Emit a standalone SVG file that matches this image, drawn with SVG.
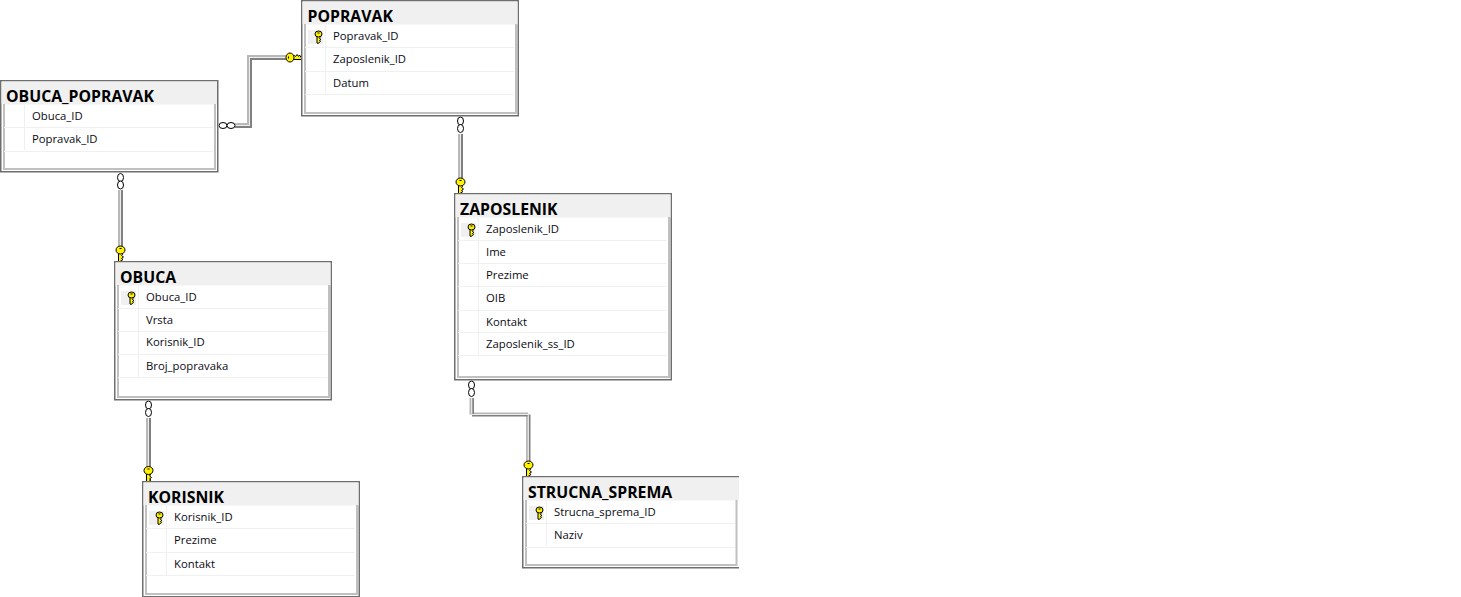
<svg xmlns="http://www.w3.org/2000/svg" width="1461" height="597" viewBox="0 0 1461 597">
<style>
.outer{fill:#fff;stroke:#6e6e6e;stroke-width:1.5}
.inner{fill:none;stroke:#c0c0c0;stroke-width:2}
.head{fill:#f0f0f0}
.grid{fill:none;stroke:#f0f0f0;stroke-width:1}
.title{font:bold 15.8px "Open Sans","Noto Sans",sans-serif;fill:#000}
.col{font:11.3px "Open Sans","Noto Sans",sans-serif;fill:#0a0a14}
.pk{fill:#f0f0f0}
.cl{fill:none;stroke:#b8b8b8;stroke-width:2}
.cm{fill:none;stroke:#ececec;stroke-width:1}
.cd{fill:none;stroke:#808080;stroke-width:2}
.ring{fill:#fff;stroke:#000;stroke-width:1}
.keyb{fill:#fff200;stroke:#000;stroke-width:1}
</style>
<defs>
<symbol id="key" overflow="visible">
<path class="keyb" d="M-2,3 V12 L-0.5,11.5 L2.5,9.5 L1,8.5 L3,7 L1,5.5 L2,4.5 V3 Z"/>
<ellipse class="keyb" cx="0" cy="0" rx="4.5" ry="4"/>
<path d="M-1,-1.5 H1" stroke="#000" stroke-width="1"/>
</symbol>
<symbol id="skey" overflow="visible">
<path class="keyb" d="M-1.5,2.5 V9 L-0.5,9.5 L2,7.5 L1,6.5 L2.5,5.5 L1,4.5 L1.5,3.5 V2.5 Z" stroke-width="0.8"/>
<ellipse class="keyb" cx="0" cy="0" rx="3.5" ry="3"/>
<path d="M-1,-1 H1" stroke="#000" stroke-width="1"/>
</symbol>
<clipPath id="cut"><rect x="0" y="0" width="739" height="597"/></clipPath>
</defs>

<g id="connectors">
<g id="c-obuca-popravak-popravak">
<path class="cl" d="M235,124 H248 V56 H287"/><path class="cd" d="M235,127 H251 V59 H287"/><path class="cm" d="M235,125.5 H249.5 V57.5 H287"/>
<ellipse class="ring" cx="223" cy="125.5" rx="4" ry="3"/><ellipse class="ring" cx="231" cy="125.5" rx="4" ry="3"/>
<use href="#key" transform="translate(290,57.5) rotate(-90)"/>
</g>
<g id="c-popravak-zaposlenik">
<path class="cl" d="M459,134 V178"/><path class="cd" d="M462,134 V178"/><path class="cm" d="M460.5,134 V178"/>
<ellipse class="ring" cx="460.5" cy="121" rx="3" ry="4"/><ellipse class="ring" cx="460.5" cy="128.5" rx="3" ry="4"/>
<use href="#key" transform="translate(460.5,182)"/>
</g>
<g id="c-obuca-popravak-obuca">
<path class="cl" d="M119,190 V247"/><path class="cd" d="M122,190 V247"/><path class="cm" d="M120.5,190 V247"/>
<ellipse class="ring" cx="120.5" cy="177.5" rx="3" ry="4"/><ellipse class="ring" cx="120.5" cy="185" rx="3" ry="4"/>
<use href="#key" transform="translate(120.5,250)"/>
</g>
<g id="c-obuca-korisnik">
<path class="cl" d="M147,418 V467"/><path class="cd" d="M150,418 V467"/><path class="cm" d="M148.5,418 V467"/>
<ellipse class="ring" cx="148.5" cy="405" rx="3" ry="4"/><ellipse class="ring" cx="148.5" cy="412.5" rx="3" ry="4"/>
<use href="#key" transform="translate(148.5,470.5)"/>
</g>
<g id="c-zaposlenik-strucna">
<path class="cl" d="M470.5,398 V413.5 H527 V461"/><path class="cd" d="M473,398 V415.5 H529.5 V461"/><path class="cm" d="M471.8,398 V414.5 H528.3 V461"/>
<ellipse class="ring" cx="471.5" cy="385" rx="3" ry="4"/><ellipse class="ring" cx="471.5" cy="392.5" rx="3" ry="4"/>
<use href="#key" transform="translate(528.5,465)"/>
</g>
</g>

<g id="popravak" transform="translate(301,0)">
<rect class="outer" x="0.75" y="0.75" width="216.5" height="115"/>
<rect class="head" x="1.5" y="1.5" width="215" height="23"/>
<path class="inner" d="M4,24 V113 H215 V24"/>
<path class="grid" d="M4,47.5 H213 M4,71.5 H213 M4,94.5 H213 M24.5,25 V94"/>
<rect class="pk" x="7" y="30" width="15" height="14"/>
<use href="#skey" transform="translate(17.5,34)"/>
<text class="title" x="6.5" y="21.6">POPRAVAK</text>
<text class="col" x="32" y="40">Popravak_ID</text>
<text class="col" x="32" y="63">Zaposlenik_ID</text>
<text class="col" x="32" y="87">Datum</text>
</g>

<g id="obuca_popravak" transform="translate(0,80)">
<rect class="outer" x="0.75" y="0.75" width="217" height="91"/>
<rect class="head" x="1.5" y="1.5" width="215.5" height="23"/>
<path class="inner" d="M4,24 V89 H215 V24"/>
<path class="grid" d="M4,47.5 H213 M4,71.5 H213 M24.5,25 V70"/>
<text class="title" x="6" y="21.6">OBUCA_POPRAVAK</text>
<text class="col" x="32" y="40">Obuca_ID</text>
<text class="col" x="32" y="63">Popravak_ID</text>
</g>

<g id="zaposlenik" transform="translate(454,193)">
<rect class="outer" x="0.75" y="0.75" width="216.5" height="186"/>
<rect class="head" x="1.5" y="1.5" width="215" height="23"/>
<path class="inner" d="M4,24 V184 H215 V24"/>
<path class="grid" d="M4,47.5 H213 M4,70.5 H213 M4,93.5 H213 M4,117.5 H213 M4,139.5 H213 M4,162.5 H213 M24.5,25 V162"/>
<rect class="pk" x="7" y="30" width="15" height="14"/>
<use href="#skey" transform="translate(17.5,34)"/>
<text class="title" x="6" y="21.6">ZAPOSLENIK</text>
<text class="col" x="32" y="40">Zaposlenik_ID</text>
<text class="col" x="32" y="63">Ime</text>
<text class="col" x="32" y="86">Prezime</text>
<text class="col" x="32" y="109">OIB</text>
<text class="col" x="32" y="133">Kontakt</text>
<text class="col" x="32" y="155">Zaposlenik_ss_ID</text>
</g>

<g id="obuca" transform="translate(114,261)">
<rect class="outer" x="0.75" y="0.75" width="216.5" height="138"/>
<rect class="head" x="1.5" y="1.5" width="215" height="23"/>
<path class="inner" d="M4,24 V136 H215 V24"/>
<path class="grid" d="M4,47.5 H213 M4,70.5 H213 M4,93.5 H213 M4,116.5 H213 M24.5,25 V116"/>
<rect class="pk" x="7" y="30" width="15" height="14"/>
<use href="#skey" transform="translate(17.5,34)"/>
<text class="title" x="6" y="21.6">OBUCA</text>
<text class="col" x="32" y="40">Obuca_ID</text>
<text class="col" x="32" y="63">Vrsta</text>
<text class="col" x="32" y="85">Korisnik_ID</text>
<text class="col" x="32" y="109">Broj_popravaka</text>
</g>

<g id="korisnik" transform="translate(142,481)">
<rect class="outer" x="0.75" y="0.75" width="216.5" height="115"/>
<rect class="head" x="1.5" y="1.5" width="215" height="23"/>
<path class="inner" d="M4,24 V113 H215 V24"/>
<path class="grid" d="M4,47.5 H213 M4,71.5 H213 M4,94.5 H213 M24.5,25 V94"/>
<rect class="pk" x="7" y="30" width="15" height="14"/>
<use href="#skey" transform="translate(17.5,34)"/>
<text class="title" x="6" y="21.6">KORISNIK</text>
<text class="col" x="32" y="40">Korisnik_ID</text>
<text class="col" x="32" y="63">Prezime</text>
<text class="col" x="32" y="87">Kontakt</text>
</g>

<g id="strucna_sprema" clip-path="url(#cut)">
<g transform="translate(522,476)">
<rect class="outer" x="0.75" y="0.75" width="218" height="91"/>
<rect class="head" x="1.5" y="1.5" width="216" height="23"/>
<path class="inner" d="M4,24 V89 H214.5 V24"/>
<path class="grid" d="M4,47.5 H213 M4,71.5 H213 M24.5,25 V70"/>
<rect class="pk" x="7" y="30" width="15" height="14"/>
<use href="#skey" transform="translate(17.5,34)"/>
<text class="title" x="6" y="21.6">STRUCNA_SPREMA</text>
<text class="col" x="32" y="40">Strucna_sprema_ID</text>
<text class="col" x="32" y="63">Naziv</text>
</g>
</g>
</svg>
